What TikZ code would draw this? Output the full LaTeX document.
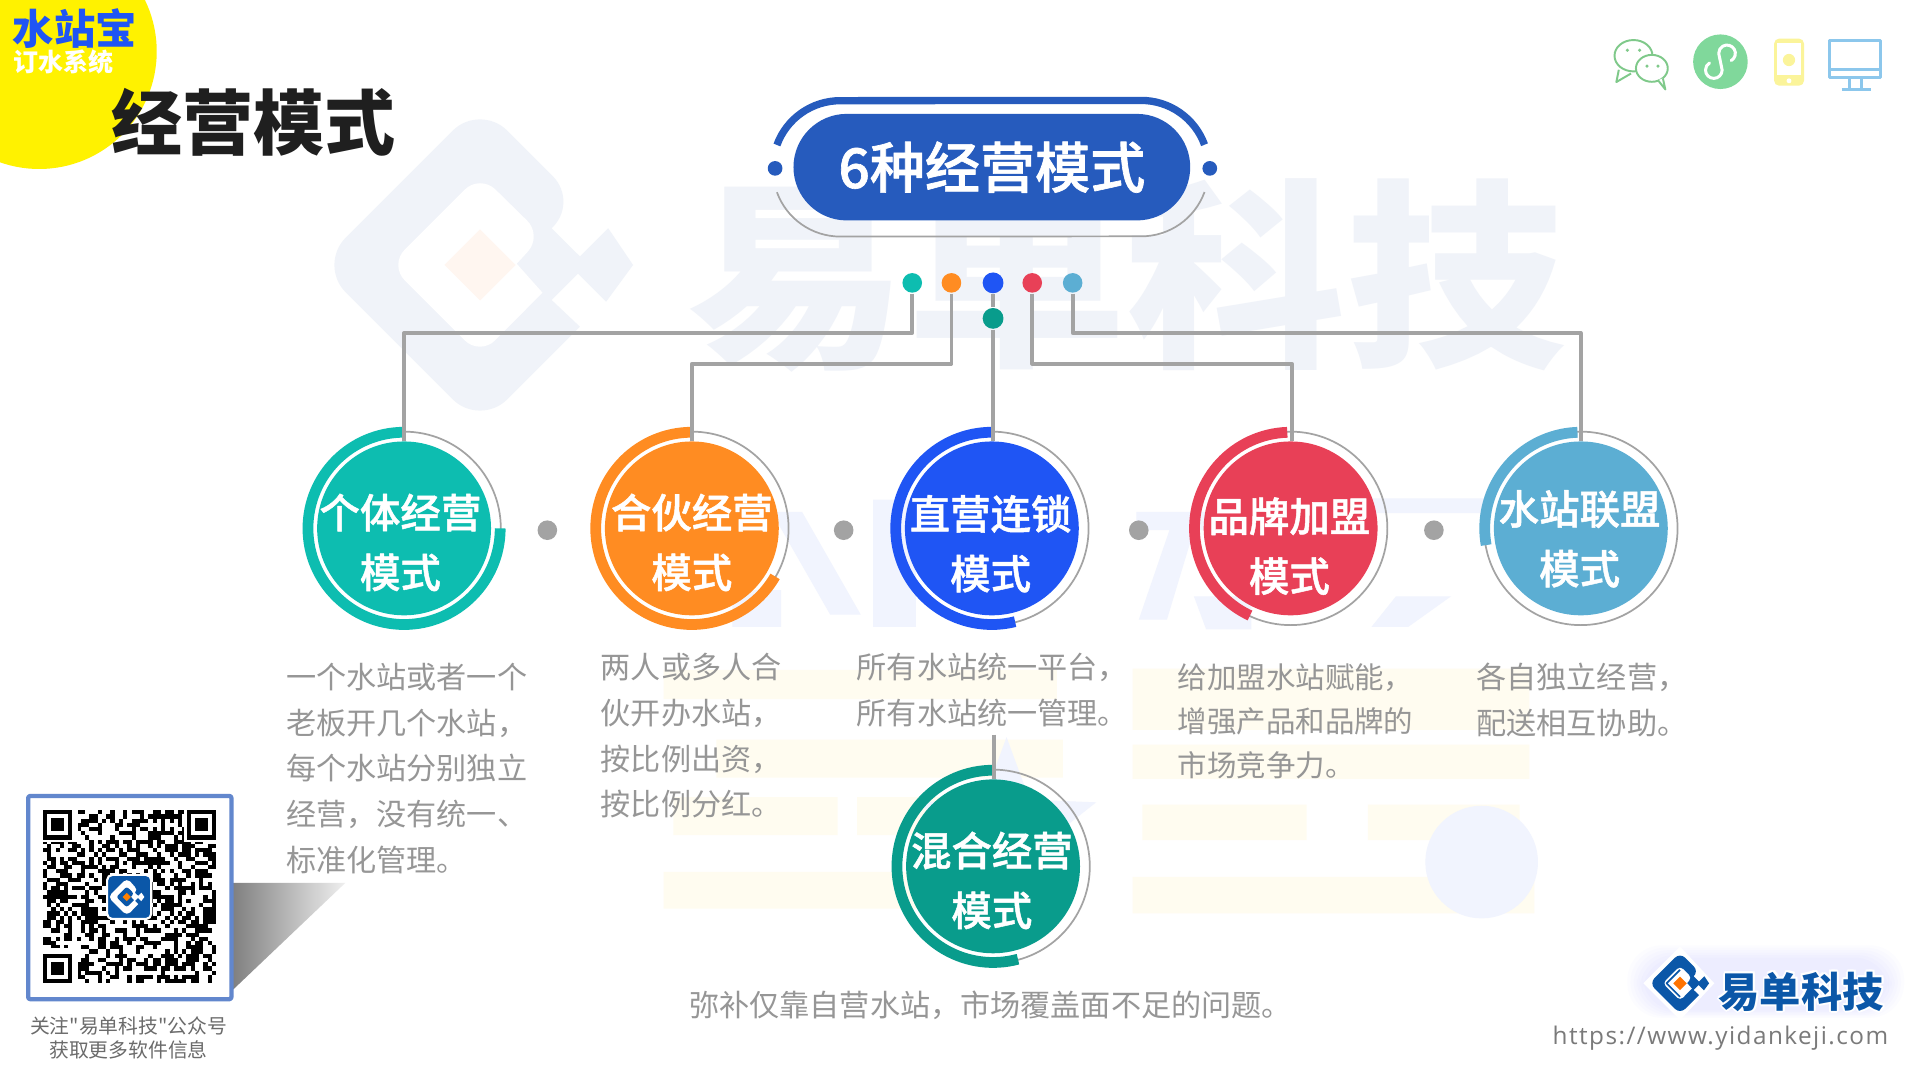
\documentclass[tikz,border=0pt]{standalone}
\usepackage{fontspec}
\setmainfont{Noto Sans CJK SC}
\newfontfamily\plaincjk{Noto Sans CJK SC}
\newfontfamily\medcjk[FakeBold=1.2]{Noto Sans CJK SC Medium}
\newfontfamily\heavycjk{Noto Sans CJK SC Black}
\newfontfamily\urlfont[LetterSpace=6]{Open Sans}
\usetikzlibrary{shapes.geometric,calc}
\definecolor{cteal}{HTML}{0DBDB0}
\definecolor{corange}{HTML}{FF8C22}
\definecolor{cblue}{HTML}{1F55F4}
\definecolor{cred}{HTML}{E84057}
\definecolor{csky}{HTML}{5CAED3}
\definecolor{cgreen}{HTML}{099C8C}
\definecolor{cline}{HTML}{A3A3A3}
\definecolor{cpill}{HTML}{265BBD}
\definecolor{ctext}{HTML}{969696}
\definecolor{wmblue}{HTML}{F0F3F9}
\definecolor{wmsoft}{HTML}{F1F4FE}
\definecolor{wmyellow}{HTML}{FFFCF0}
\definecolor{wmcore}{HTML}{FFF6F0}
\definecolor{logoblue}{HTML}{0B57A8}
\definecolor{iconchat}{HTML}{7FC98A}
\definecolor{iconmini}{HTML}{80D89B}
\definecolor{iconphone}{HTML}{FBF49A}
\definecolor{iconscreen}{HTML}{8CC7EC}
\definecolor{badge}{HTML}{FFF200}
\tikzset{
	conn/.style={draw=cline,line width=.85pt},
	ringgray/.style={draw=cline,line width=.4pt},
	smalldot/.style={circle,inner sep=0,minimum size=.16cm},
	middot/.style={smalldot,fill=cline},
	modedisc/.style={circle,inner sep=0,minimum size=1.42cm},
	modetext/.style={text=white,align=center,font=\medcjk\fontsize{9.4pt}{13.9pt}\selectfont},
	desc/.style={text=ctext,align=left,inner sep=0,anchor=north west,font=\fontsize{7pt}{10.6pt}\selectfont},
}
% center, scale, body, hole, core
\newcommand{\logomark}[5]{
	\begin{scope}[shift={(#1)},scale=#2]
		\fill[#3] [rounded corners=#2*9pt] (-1.32,0)--(0,1.32)--(.816,.504) [sharp corners] --(.585,.3)--(.816,.07)--(1.047,.3)--(1.25,0)--(1.03,-.3)--(.8,-.07)--(.585,-.286)--(.816,-.504) [rounded corners=#2*9pt] --(0,-1.32)--cycle;
		\fill[#4] [rounded corners=#2*5pt] (-.74,0)--(0,.74)--(.51,.24) [sharp corners] --(.3,.01)--(.51,-.226) [rounded corners=#2*5pt] --(0,-.74)--cycle;
		\fill[#5] (-.29,0)--(0,.29)--(.29,0)--(0,-.29)--cycle;
	\end{scope}
}
\begin{document}
\begin{tikzpicture}[scale=1,>=stealth,line join=round]
	\useasboundingbox (0,0) rectangle (15.68,8.82);
	\clip (0,0) rectangle (15.68,8.82);
	\fill[white] (0,0) rectangle (15.68,8.82);
	% watermark
	\logomark{3.92,6.656}{1}{wmblue}{white}{wmcore}
	\node[text=wmblue,inner sep=0,yscale=.92,font=\fontsize{51pt}{51pt}\selectfont\bfseries] (wmname) at (9.2,6.57) {易单科技};
	\fill[wmyellow] (5.42,3.35) rectangle (8.63,3.11) (5.85,2.78) rectangle (8.68,2.47) (5.5,2.31) rectangle (6.84,2) (5.42,1.7) rectangle (8.0,1.4) (7.0,2.31) rectangle (8.3,2);
	\fill[wmyellow] (9.25,3.36) rectangle (12.49,2.86) (9.25,2.74) rectangle (12.49,2.46) (9.33,2.25) rectangle (10.67,1.96) (11.17,2.25) rectangle (12.41,1.96) (9.25,1.66) rectangle (12.53,1.36);
	\fill[wmsoft] (6.3,4.64)--(6.55,4.64)--(7.03,3.8)--(6.78,3.8)--cycle (7.13,4.74) rectangle (7.48,3.7) (5.98,4.0) rectangle (6.38,3.7);
	\fill[wmsoft] (9.28,4.64) rectangle (10.48,4.49) (9.55,4.49)--(9.3,3.76)--(9.53,3.76)--(9.75,4.49)--cycle (9.75,3.95)--(10.22,3.95)--(10.22,3.68)--(9.85,3.68)--cycle;
	\fill[wmsoft] (10.7,4.75) rectangle (12.13,4.63) (11.4,3.95)--(11.85,3.95)--(11.5,3.7)--(11.2,3.7)--cycle;
	\node[star,star points=5,star point ratio=2.4,fill=wmsoft,inner sep=0,minimum size=1.54cm] (wmstar) at (8.22,2.03) {};
	\node[circle,fill=wmsoft,inner sep=0,minimum size=.92cm] (wmdot) at (12.1,1.78) {};
	% corner badge
	\fill[badge] (.32,8.4) circle (.96);
	\node[text=cblue,inner sep=0,font=\fontsize{9.6pt}{10pt}\selectfont\bfseries] (brand) at (.61,8.59) {水站宝};
	\node[text=white,inner sep=0,font=\fontsize{5.8pt}{6pt}\selectfont\bfseries] (brandsub) at (.52,8.31) {订水系统};
	\node[text=black!88,inner sep=0,font=\heavycjk\fontsize{16.5pt}{17pt}\selectfont] (pagetitle) at (2.07,7.82) {经营模式};
	% top icons
	\draw[iconchat,line width=.45pt,fill=white] (13.34,8.365) ellipse (.155 and .128);
	\draw[iconchat,line width=.45pt,fill=white] (13.22,8.25)--(13.2,8.15)--(13.32,8.22);
	\draw[iconchat,line width=.45pt,fill=white] (13.49,8.262) ellipse (.13 and .11);
	\draw[iconchat,line width=.45pt,fill=white] (13.54,8.165)--(13.6,8.09)--(13.58,8.18);
	\foreach \x/\y in {13.29/8.41,13.39/8.41,13.45/8.28,13.54/8.28} \fill[iconchat] (\x,\y) circle (.014);
	\fill[iconmini] (14.05,8.316) circle (.223);
	\begin{scope}[shift={(14.05,8.316)}]
		\draw[white,line width=.7pt,line cap=round] (.054,.068)+(-60:.068) arc (-60:180:.068) -- (.014,-.068) arc (0:-240:.068);
	\end{scope}
	\fill[iconphone,rounded corners=1.2pt] (14.488,8.12) rectangle (14.733,8.505);
	\fill[white] (14.515,8.205) rectangle (14.705,8.465);
	\fill[white] (14.61,8.16) circle (.02);
	\fill[iconphone] (14.61,8.33) circle (.05);
	\draw[iconscreen,line width=.7pt] (14.94,8.19) rectangle (15.36,8.49) (14.94,8.25)--(15.36,8.25) (15.1,8.19)--(15.1,8.1) (15.2,8.19)--(15.2,8.1) (15.04,8.09)--(15.28,8.09);
	% pill
	\node[fill=cpill,rounded corners=.435cm,inner sep=0,minimum width=3.24cm,minimum height=.87cm,text=white,font=\medcjk\fontsize{12.8pt}{14pt}\selectfont] (pill) at (8.1,7.455) {6种经营模式};
	\draw[cpill,line width=1.7pt] (6.345,7.636) arc (160:90:.55) -- (9.32,8) arc (90:20:.55);
	\draw[cline,line width=.4pt] (6.345,7.25) arc (200:270:.55) -- (9.32,6.89) arc (270:340:.55);
	\node[smalldot,fill=cpill,minimum size=.12cm] (pilll) at (6.33,7.445) {};
	\node[smalldot,fill=cpill,minimum size=.12cm] (pillr) at (9.88,7.445) {};
	% mode discs
	\foreach \name/\cx/\cy/\col/\angA/\angB/\tx/\ty/\lines in {
		geti/3.30/4.505/cteal/90/360/3.27/4.39/{个体经营\\模式},
		hehuo/5.65/4.505/corange/90/330/5.65/4.39/{合伙经营\\模式},
		zhiying/8.10/4.505/cblue/90/284/8.09/4.38/{直营连锁\\模式},
		pinpai/10.54/4.505/cred/92/245/10.53/4.36/{品牌加盟\\模式},
		lianmeng/12.91/4.505/csky/92/190/12.90/4.42/{水站联盟\\模式},
		hunhe/8.11/1.745/cgreen/90/285/8.10/1.63/{混合经营\\模式}}
	{
		\draw[ringgray] (\cx,\cy) circle (.79);
		\draw[\col,line width=2.5pt] (\cx,\cy)+(\angA:.785) arc (\angA:\angB:.785);
		\node[modedisc,fill=\col] (\name) at (\cx,\cy) {};
		\node[modetext] (\name txt) at (\tx,\ty) {\lines};
	}
	% dots and connectors
	\node[smalldot,fill=cteal] (dota) at (7.45,6.51) {};
	\node[smalldot,fill=corange] (dotb) at (7.77,6.51) {};
	\node[smalldot,fill=cblue,minimum size=.17cm] (dotc) at (8.11,6.51) {};
	\node[smalldot,fill=cred] (dotd) at (8.43,6.51) {};
	\node[smalldot,fill=csky] (dote) at (8.76,6.51) {};
	\node[smalldot,fill=cgreen,minimum size=.17cm] (dotf) at (8.11,6.22) {};
	\draw[conn] (dota) -- ++(0,-.41) -| (geti);
	\draw[conn] (dotb) -- ++(0,-.66) -| (hehuo);
	\draw[conn] (dotc) -- (dotf);
	\draw[conn] (dotf) -- (dotf |- zhiying.north);
	\draw[conn] (dotd) -- ++(0,-.66) -| ([xshift=.01cm]pinpai.north);
	\draw[conn] (dote) -- ++(0,-.41) -| (lianmeng);
	\coordinate (hunhetop) at (8.12,2.82);
	\draw[conn] (hunhetop) -- (hunhetop |- hunhe.north);
	\node[middot] (gapa) at (4.47,4.49) {};
	\node[middot] (gapb) at (6.89,4.49) {};
	\node[middot] (gapc) at (9.30,4.49) {};
	\node[middot] (gapd) at (11.71,4.49) {};
	% descriptions
	\node[desc] (desca) at (2.33,3.41) {一个水站或者一个\\老板开几个水站，\\每个水站分别独立\\经营，没有统一、\\标准化管理。};
	\node[desc] (descb) at (4.90,3.49) {两人或多人合\\伙开办水站，\\按比例出资，\\按比例分红。};
	\node[desc] (descc) at (6.99,3.49) {所有水站统一平台，\\所有水站统一管理。};
	\node[desc,font=\fontsize{6.85pt}{10.3pt}\selectfont] (descd) at (9.61,3.41) {给加盟水站赋能，\\增强产品和品牌的\\市场竞争力。};
	\node[desc] (desce) at (12.05,3.41) {各自独立经营，\\配送相互协助。};
	\node[text=ctext,inner sep=0,font=\fontsize{7pt}{8pt}\selectfont] (descf) at (8.09,.61) {弥补仅靠自营水站，市场覆盖面不足的问题。};
	% qr card
	\shade[left color=black!50,right color=black!6] (1.9,1.61) -- (2.82,1.61) -- (1.9,.735) -- cycle;
	\draw[fill=white,draw=cyan!40!blue!65!white,line width=1pt,rounded corners=.5pt] (.23,.66) rectangle (1.89,2.32);
	\pgfmathsetseed{4127}
	\foreach \i in {0,...,40} \foreach \j in {0,...,40} {
		\pgfmathrandominteger{\bit}{0}{100}
		\ifnum\bit<50 \fill[black] (.35+\i*.0345,.79+\j*.0345) rectangle ++(.0345,.0345); \fi
	}
	\foreach \fx/\fy in {.35/.79,.35/1.964,1.524/1.964} {
		\fill[white] (\fx-.02,\fy-.02) rectangle ++(.31,.31);
		\fill[black] (\fx,\fy) rectangle ++(.2415,.2415);
		\fill[white] (\fx+.0345,\fy+.0345) rectangle ++(.1725,.1725);
		\fill[black] (\fx+.069,\fy+.069) rectangle ++(.1035,.1035);
	}
	\draw[fill=logoblue,draw=white,line width=.5pt,rounded corners=1.2pt] (.875,1.315) rectangle (1.235,1.675);
	\logomark{1.035,1.495}{.115}{white}{logoblue}{orange}
	\node[text=black!58,align=center,inner sep=0,font=\plaincjk\fontsize{4.6pt}{5.6pt}\selectfont] (qrnote) at (1.05,.34) {关注"易单科技"公众号\\获取更多软件信息};
	% brand block
	\foreach \g in {1,...,6} \fill[blue!60!white,opacity=.015,rounded corners=8pt] (13.44-\g*.025,.58-\g*.012) rectangle (15.4+\g*.025,.98+\g*.02);
	\fill[white] (13.72,1.09)--(14,.79)--(13.72,.49)--(13.42,.79)--cycle;
	\logomark{13.72,.79}{.19}{logoblue}{white}{orange!90!red}
	\draw[logoblue,line width=.4pt] (13.72,.9)--(13.61,.79)--(13.72,.68);
	\foreach \dx/\dy [count=\hi] in {.015/0,-.015/0,0/.015,0/-.015,.012/.012,-.012/.012,.012/-.012,-.012/-.012}
		\node[text=white,inner sep=0,font=\fontsize{9.6pt}{10pt}\selectfont\bfseries] (halo\hi) at (14.71+\dx,.72+\dy) {易单科技};
	\node[text=logoblue,inner sep=0,font=\fontsize{9.6pt}{10pt}\selectfont\bfseries] (brandname) at (14.71,.72) {易单科技};
	\node[text=black!52,inner sep=0,font=\urlfont\fontsize{5.65pt}{7pt}\selectfont] (brandurl) at (14.05,.345) {https://www.yidankeji.com};
\end{tikzpicture}
\end{document}
